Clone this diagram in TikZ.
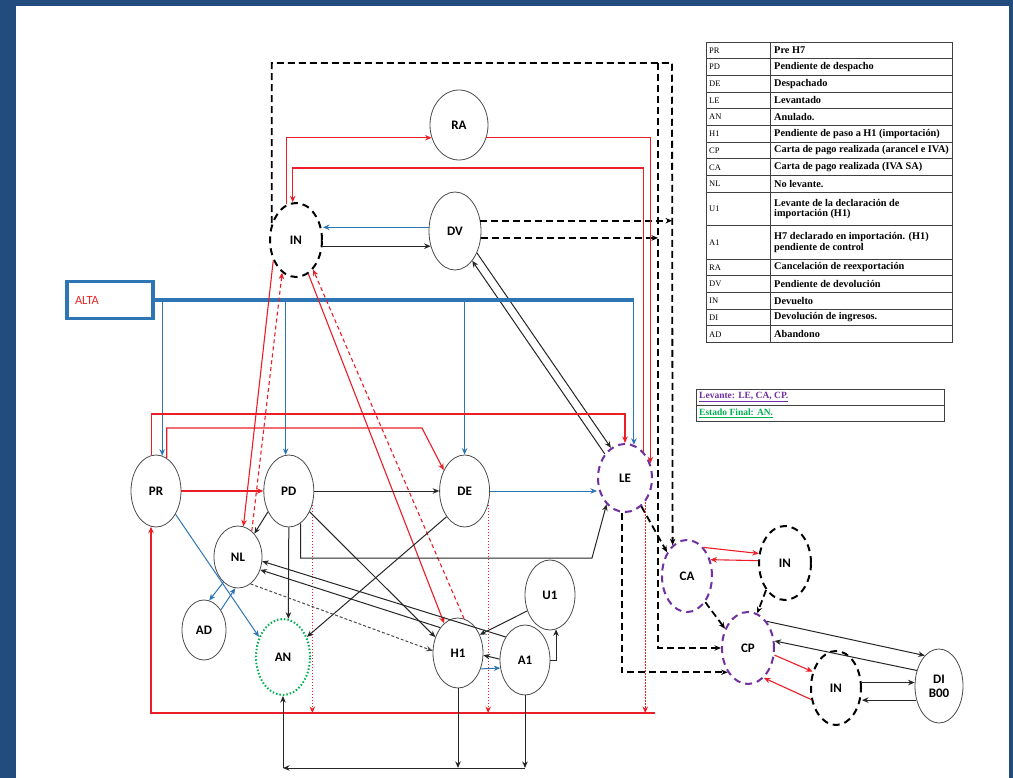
\documentclass[tikz,border=0pt]{standalone}
\usepackage{fontspec}
\setmainfont{Liberation Serif}
\setsansfont{Carlito}
\usetikzlibrary{positioning,shapes.geometric,arrows.meta}
\definecolor{frameblue}{RGB}{34,75,126}
\definecolor{linkblue}{RGB}{46,117,182}
\definecolor{altared}{RGB}{232,40,40}
\definecolor{stred}{RGB}{235,30,40}
\definecolor{levpurple}{RGB}{112,48,160}
\definecolor{fingreen}{RGB}{0,176,80}

\begin{document}
\begin{tikzpicture}[x=1pt,y=-1pt,>={Stealth[length=6.5pt,width=5.5pt]}]
		\tikzset{State/.style = {ellipse, draw=black!70, line width=0.8pt, inner sep=0pt, minimum width=50pt, minimum height=72pt, font=\sffamily\bfseries\fontsize{13}{14}\selectfont},
			Back/.style = {State, draw=black, line width=2pt, dash pattern=on 7pt off 5pt},
			Lev/.style = {State, draw=levpurple, line width=2pt, dash pattern=on 7pt off 5pt},
			Fin/.style = {State, draw=fingreen, line width=2pt, dash pattern=on 1.5pt off 2pt},
			blk/.style = {->, line width=1pt, black!85},
			blu/.style = {->, line width=1pt, linkblue},
			rd/.style = {->, line width=1.1pt, stred},
			rddash/.style = {rd, dash pattern=on 4pt off 3pt},
			rddot/.style = {rd, dash pattern=on 1.5pt off 1.5pt},
			bigdash/.style = {->, line width=1.8pt, black, dash pattern=on 7pt off 4pt},
			legtext/.style = {anchor=west, inner sep=0pt, align=left, font=\bfseries\fontsize{10.3}{10.5}\selectfont}}
		\useasboundingbox (0,0) rectangle (1013,778);
		\fill[frameblue] (0,0) rectangle (1013,778);
		\fill[white] (16,6) rectangle (1009,778);
		% states
		\node[State, minimum width=58pt, minimum height=70pt] (RA) at (459,125) {RA};
		\node[Back, minimum width=52pt, minimum height=74pt] (INt) at (296,240) {IN};
		\node[State, minimum width=52pt, minimum height=78pt] (DV) at (455,231) {DV};
		\node[draw=linkblue, line width=3.5pt, minimum height=37pt, inner ysep=0pt, inner xsep=8pt, text width=70pt, align=left, text=altared, font=\sffamily\fontsize{12.5}{13}\selectfont] (ALTA) at (110,300) {ALTA};
		\node[State] (PR) at (156,491) {PR};
		\node[State] (PD) [right = 82pt of PR] {PD};
		\node[State] (DE) [right = 125pt of PD] {DE};
		\node[State, minimum width=48pt, minimum height=62pt] (NL) at (238,557) {NL};
		\node[State, minimum width=44pt, minimum height=60pt] (AD) at (204,630) {AD};
		\node[Fin, minimum width=54pt, minimum height=76pt] (AN) at (283,657) {AN};
		\node[Lev, minimum width=54pt, minimum height=68pt] (LE) at (625,478) {LE};
		\node[State, minimum height=70pt] (H1) at (458,653) {H1};
		\node[State, minimum height=70pt] (A1) at (525,660) {A1};
		\node[State, minimum height=70pt] (U1) at (550,595) {U1};
		\node[Lev] (CA) at (687,576) {CA};
		\node[Back, minimum width=52pt, minimum height=74pt] (INr) at (785,563) {IN};
		\node[Lev, minimum width=52pt] (CP) at (748,648) {CP};
		\node[Back, minimum height=74pt] (INb) at (836,688) {IN};
		\node[State, minimum width=48pt, minimum height=74pt, align=center] (DI) at (939,686) {DI\\B00};
		% helper lines
		\coordinate (yTop) at (0,63);
		\coordinate (yIN) at (0,168);
		\coordinate (yPL) at (0,414);
		\coordinate (yRed) at (0,713);
		\coordinate (yBlk) at (0,768);
		\coordinate (xA) at (672,0);
		\coordinate (xB) at (658,0);
		\coordinate (kDE) at (422,428);
		\coordinate (kLE) at (592,558);
		\coordinate (rEnd) at (655,713);
		% dashed returns
		\draw[bigdash] (INt.145) |- (xA |- yTop) -- (CA.115);
		\draw[bigdash] (xB |- yTop) |- (CP.west);
		\draw[bigdash] (DV.22) -- (DV.22 -| xA);
		\draw[bigdash] (DV.-15) -- (DV.-15 -| xB);
		\draw[bigdash] (LE.265) |- (CP.230);
		\draw[bigdash] (LE.300) -- (CA.130);
		% top loop
		\draw[rd] (INt.105) |- (RA.205);
		\draw[rd] (RA.335) -| (LE.30);
		\draw[rd] (LE.55) |- (INt.95 |- yIN) -- (INt.95);
		\draw[blu] (DV.172) -- (DV.172 -| INt.east);
		\draw[blk] (INt.-15) |- (DV.212);
		\draw[blk] (LE.130) -- (DV.300);
		\draw[blk] (DV.315) -- (LE.115);
		% alta
		\draw[linkblue, line width=3.5pt] (ALTA.east) -- (ALTA.east -| LE.75);
		\draw[blu] (ALTA.east -| PR.80) -- (PR.80);
		\draw[blu] (ALTA.east -| PD.95) -- (PD.95);
		\draw[blu] (ALTA.east -| DE.north) -- (DE.north);
		\draw[blu] (ALTA.east -| LE.75) -- (LE.75);
		% red
		\draw[rd] (PR.97) |- (LE.north |- yPL) -- (LE.north);
		\draw[rd] (PR.72) |- (kDE) -- (DE.135);
		\draw[rd] (PR.east) -- (PD.west);
		\draw[rd] (rEnd) -| (PR.262);
		\draw[rddot] (PD.330) -- (PD.330 |- yRed);
		\draw[rddot] (DE.330) -- (DE.330 |- yRed);
		\draw[rddot] (LE.310) -- (LE.310 |- yRed);
		\draw[rd] (INt.222) -- (NL.80);
		\draw[rddash] (NL.62) -- (INt.247);
		\draw[rd] (INt.290) -- (H1.115);
		\draw[rddash] (H1.80) -- (INt.300);
		% black
		\draw[blk] (PD.225) -- (NL.55);
		\draw[blk] (PD.east) -- (DE.west);
		\draw[blk] (PD.south) -- (AN.82);
		\draw[blk] (PD.290) |- (kLE) -- (LE.235);
		\draw[blk] (PD.315) -- (H1.145);
		\draw[blk] (DE.235) -- (AN.40);
		\draw[blk] (A1.130) -- (NL.-10);
		\draw[blk] (H1.125) -- (NL.-30);
		\draw[blk, black!70, dash pattern=on 3pt off 2pt] (NL.-65) -- (H1.175);
		\draw[blk] (U1.215) -- (H1.40);
		\draw[blk] (A1.178) -- (H1.-5);
		\draw[blu] (H1.-35) -- (A1.198);
		\draw[blk] (A1.east) -| (U1.-80);
		\draw[blk] (H1.south) -- (H1.south |- yBlk);
		\draw[blk] (A1.south) -- (A1.south |- yBlk);
		\draw[blk] (A1.south |- yBlk) -- (AN.south |- yBlk);
		\draw[blk] (AN.south |- yBlk) -- (AN.south);
		% blue
		\draw[blu] (PR.-50) -- (AN.140);
		\draw[blu] (NL.240) -- (AD.80);
		\draw[blu] (AD.50) -- (NL.265);
		\draw[blu] (DE.east) -- (DE.east -| LE.west);
		% payment side
		\draw[rd] (CA.60) -- (INr.160);
		\draw[rd] (INr.175) -- (CA.35);
		\draw[bigdash] (CA.-55) -- (CP.140);
		\draw[bigdash] (INr.235) -- (CP.75);
		\draw[blk] (CP.55) -- (DI.115);
		\draw[blk] (DI.145) -- (CP.15);
		\draw[rd] (CP.-15) -- (INb.145);
		\draw[rd] (INb.205) -- (CP.-62);
		\draw[blk] (INb.12) -- (INb.12 -| DI.west);
		\draw[blk] (DI.212) -- (DI.212 -| INb.east);
		% legend
		\foreach \code/\desc/\ya/\yb in {PR/Pre H7/42/58.7, PD/Pendiente de despacho/58.7/75.4, DE/Despachado/75.4/92.1, LE/Levantado/92.1/108.8, AN/Anulado./108.8/125.5, H1/Pendiente de paso a H1 (importación)/125.5/142.2, CP/Carta de pago realizada (arancel e IVA)/142.2/158.9, CA/Carta de pago realizada (IVA SA)/158.9/175.6, NL/No levante./175.6/192.3, U1/{Levante de la declaración de\\importación (H1)}/192.3/225.7, A1/{H7 declarado en importación. (H1)\\pendiente de control}/225.7/259.1, RA/Cancelación de reexportación/259.1/275.8, DV/Pendiente de devolución/275.8/292.5, IN/Devuelto/292.5/309.2, DI/Devolución de ingresos./309.2/325.9, AD/Abandono/325.9/342.6}{
			\draw[black!75, line width=0.9pt] (706,\ya) rectangle (952,\yb);
			\draw[black!75, line width=0.9pt] (770,\ya) -- (770,\yb);
			\node[legtext, font=\fontsize{8.5}{9}\selectfont] at (709,{(\ya+\yb)/2}) {\code};
			\node[legtext] at (774,{(\ya+\yb)/2}) {\desc};
		}
		\draw[black!75, line width=0.9pt] (696,389) rectangle (944,405);
		\draw[black!75, line width=0.9pt] (696,405) rectangle (944,421);
		\node[legtext, text=levpurple, font=\bfseries\fontsize{9.5}{10}\selectfont] (LEV) at (699,397) {\underline{Levante: LE, CA, CP.}};
		\node[legtext, text=fingreen, font=\bfseries\fontsize{9.5}{10}\selectfont] (FIN) at (699,413) {\underline{Estado Final: AN.}};
	\end{tikzpicture}
\end{document}
